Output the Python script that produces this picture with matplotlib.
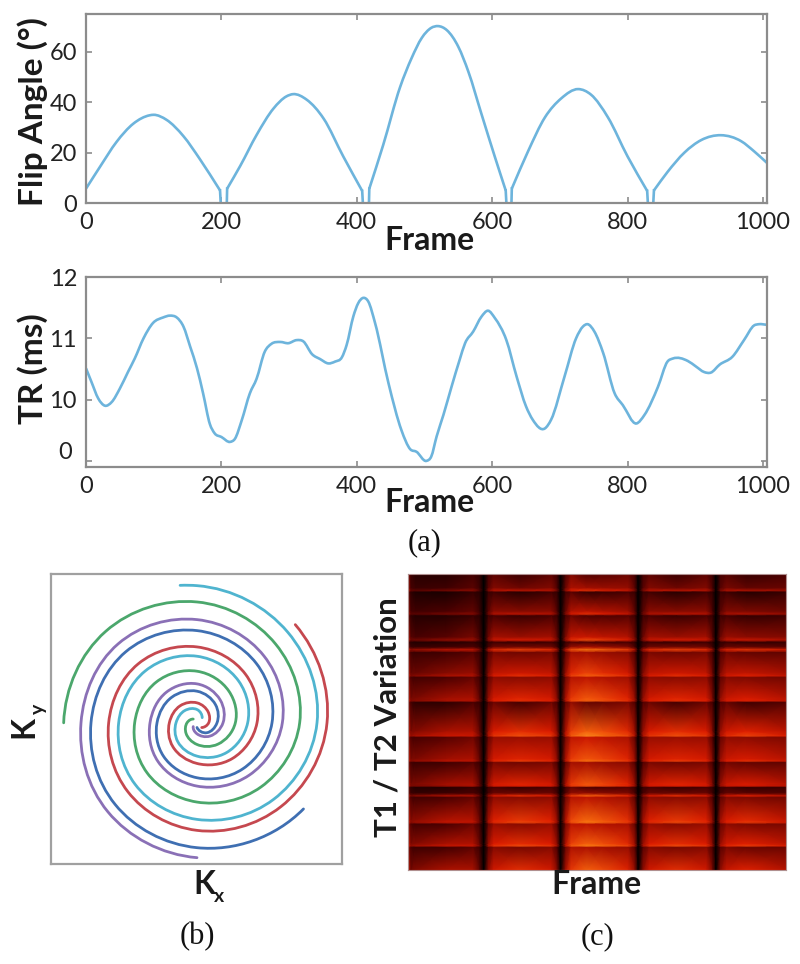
import numpy as np
import matplotlib
matplotlib.use('Agg')
import matplotlib.pyplot as plt
from matplotlib.colors import LinearSegmentedColormap
from matplotlib.path import Path
from matplotlib.patches import PathPatch

# Flip angle
flip_frame = [0, 21, 45, 70, 94, 100, 119, 144, 168, 198, 199, 208, 208.5, 228, 252, 277, 296, 306, 326, 351, 380, 408, 409,
              418, 418.5, 439, 464, 481, 496, 510, 520, 533, 550, 565, 584, 604, 620, 621, 628.5, 629, 653, 678, 702, 727,
              746, 771, 800, 829, 830, 838, 839, 859, 884, 909, 938, 968, 987, 1006]
flip_angle = [5.7, 14.5, 24.2, 31.5, 34.8, 35, 33, 26.5, 17.5, 5, 0, 0, 5.7, 14.8, 27, 37.5, 42.3, 43.2, 41, 33.5, 18.5, 4.8, 0,
              0, 5.7, 23, 46, 57.5, 65.5, 69.5, 70.2, 68.6, 62, 52, 35.5, 18.3, 5, 0, 0, 5.7, 20.5, 34, 41.5, 45.2,
              43, 34, 18.5, 4.8, 0, 0, 5, 12.3, 20, 25, 26.9, 24.5, 20.5, 15.9]

# TR
tr_frame = [0, 8, 18, 28, 38, 50, 62, 72, 85, 99, 114, 124, 134, 144, 154, 164, 173, 183, 190, 200, 213, 220, 230, 242, 252,
            264, 274, 287, 299, 311, 321, 334, 346, 358, 368, 378, 385, 395, 402, 410, 417, 427, 447, 466, 479, 488, 503,
            510, 518, 528, 540, 552, 560, 572, 584, 594, 604, 621, 636, 650, 660, 678, 687, 707, 724, 734, 741, 751, 764,
            781, 793, 813, 825, 845, 859, 867, 889, 901, 913, 923, 936, 955, 972, 987, 994, 1006]
tr_ms = [10.51, 10.29, 10.02, 9.9, 9.96, 10.18, 10.45, 10.67, 11.0, 11.25, 11.34, 11.37, 11.34, 11.19, 10.86, 10.51, 10.1, 9.6,
         9.45, 9.39, 9.31, 9.36, 9.66, 10.1, 10.34, 10.78, 10.91, 10.94, 10.92, 10.97, 10.95, 10.74, 10.66, 10.59, 10.62,
         10.69, 10.89, 11.36, 11.57, 11.66, 11.6, 11.25, 10.26, 9.5, 9.19, 9.15, 9.0, 9.07, 9.4, 9.75, 10.21, 10.65, 10.92,
         11.11, 11.35, 11.45, 11.33, 10.97, 10.38, 9.89, 9.67, 9.53, 9.67, 10.38, 11.0, 11.19, 11.23, 11.11, 10.76, 10.1,
         9.91, 9.61, 9.75, 10.21, 10.62, 10.67, 10.63, 10.54, 10.45, 10.44, 10.57, 10.7, 10.97, 11.21, 11.23, 11.22]

# Spiral arms: angle (deg, counterclockwise) and radius, read every 45 deg
red_theta = np.arange(-45, 766, 45)
red_r = [20, 35, 47, 60, 72, 83, 102, 122, 151, 180, 206, 228, 250, 265, 293, 323, 356, 390, 417]
cyan_theta = np.append(np.arange(45, 811, 45), 817)
cyan_r = [22, 40, 52, 63, 81, 100, 126, 152, 177, 200, 220, 235, 262, 290, 325, 360, 385, 412, 416]
green_theta = np.arange(135, 901, 45)
green_r = [16, 30, 46, 65, 90, 115, 135, 155, 173, 187, 212, 238, 272, 308, 334, 363, 388, 400]
purple_theta = np.arange(225, 991, 45)
purple_r = [16, 33, 56, 78, 98, 117, 130, 141, 165, 190, 222, 256, 284, 310, 335, 348, 378, 405]
blue_theta = np.append(np.arange(270, 991, 45), 1041)
blue_r = [14, 42, 60, 78, 95, 108, 120, 142, 165, 195, 225, 252, 277, 302, 318, 347, 375, 411]

# Heatmap rows: position, level near the lobe edge, level at the lobe centre
row_pos = [42, 85, 92, 97, 155, 163, 168, 232, 241, 247, 262, 270, 278, 340, 348, 353, 415, 423, 428, 515, 528,
           533, 598, 604, 608, 672, 679, 683, 700, 708, 713, 782, 788, 793, 852, 858, 863, 930]
row_edge = [.22, .25, .30, .18, .24, .27, .18, .28, .30, .14, .20, .36, .22, .30, .32, .24, .32, .34, .24, .33, .36,
            .25, .33, .34, .22, .32, .33, .18, .20, .30, .24, .34, .34, .26, .33, .36, .24, .30]
row_centre = [.10, .17, .27, .07, .20, .27, .10, .22, .32, .10, .18, .40, .17, .30, .36, .20, .34, .36, .12, .36, .44,
              .22, .34, .40, .17, .34, .33, .10, .16, .36, .20, .38, .42, .20, .36, .42, .18, .36]
# Heatmap columns: position, how much of the lobe centre shows, lobe gain
col_pos = [115, 124, 138, 230, 310, 330, 342, 356, 372, 450, 545, 562, 572, 588, 604, 650, 700, 775, 795, 805, 820, 838, 920,
           1010, 1028, 1038, 1052, 1070, 1130, 1248]
col_centre = [0, .3, .8, 1, .5, .3, 0, .3, .5, 1, .5, .3, 0, .3, .5, 1, .85, .5, .3, 0, .3, .5, 1, .5, .3, 0, .3, .5, 1, .5]
col_gain = [1.0, .6, .6, .72, .78, .5, 0, .7, 1.0, 1.08, 1.0, .65, 0, .8, 1.25, 1.45, 1.3, 1.1, .7, 0, .7, 1.0, 1.08,
            1.0, .6, 0, .7, .95, 1.0, .85]

DARK = '#222222'
GREY = '#8c8c8c'
LINE = '#6db4dc'
SANS = 'Lato'
SERIF = 'Liberation Serif'

heat = LinearSegmentedColormap.from_list('heat', [(0, '#000000'), (.2, '#4a0000'), (.36, '#a81000'), (.5, '#dc1c00'),
                                                  (.64, '#ee480a'), (.86, '#f8780e'), (1, '#ffa030')])

W, H = 800, 964
fig = plt.figure(figsize=(8, 9.64), dpi=100)


def add_axes_px(left, top, right, bottom):
    return fig.add_axes([left / W, 1 - bottom / H, (right - left) / W, (bottom - top) / H])


def text_px(x, y, s, **kw):
    fig.text(x / W, 1 - y / H, s, ha='center', va='center', **kw)


def style_axes(ax):
    for sp in ax.spines.values():
        sp.set_color(GREY)
        sp.set_linewidth(1.6)
    ax.tick_params(direction='in', top=True, right=True, length=4, width=1.2, color=GREY,
                   labelsize=17, labelcolor=DARK, pad=6.5)
    for lab in ax.get_xticklabels() + ax.get_yticklabels():
        lab.set_family(SANS)


def bezier_path(px, py, dx, dy, step):
    # Hermite segments through the read points, as cubic Beziers
    verts = [(px[0], py[0])]
    codes = [Path.MOVETO]
    for i in range(len(px) - 1):
        h = step[i] / 3
        verts += [(px[i] + dx[i] * h, py[i] + dy[i] * h),
                  (px[i + 1] - dx[i + 1] * h, py[i + 1] - dy[i + 1] * h),
                  (px[i + 1], py[i + 1])]
        codes += [Path.CURVE4] * 3
    return Path(verts, codes)


def curve_path(x, y):
    x = np.asarray(x, float)
    y = np.asarray(y, float)
    return bezier_path(x, y, np.ones(len(x)), np.gradient(y, x), np.diff(x))


def arm_path(theta, r):
    t = np.radians(theta)
    r = np.asarray(r, float)
    dr = np.gradient(r, t)
    dx = dr * np.cos(t) - r * np.sin(t)
    dy = dr * np.sin(t) + r * np.cos(t)
    return bezier_path(r * np.cos(t), r * np.sin(t), dx, dy, np.diff(t))


def draw_curve(ax, x, y):
    ax.add_patch(PathPatch(curve_path(x, y), fill=False, edgecolor=LINE, lw=1.9))


# Flip angle: one smooth dome per pulse train, straight legs down to zero
ax1 = add_axes_px(86, 14, 767, 203)
zero = [i for i, v in enumerate(flip_angle) if v == 0]
starts = [0] + zero[1::2]
ends = zero[0::2] + [len(flip_angle)]
for s, e in zip(starts, ends):
    a = s + 1 if s > 0 else s
    draw_curve(ax1, flip_frame[a:e], flip_angle[a:e])
    if s > 0:
        ax1.plot(flip_frame[s:s + 2], flip_angle[s:s + 2], color=LINE, lw=1.9)
    if e < len(flip_angle):
        ax1.plot(flip_frame[e - 1:e + 1], flip_angle[e - 1:e + 1], color=LINE, lw=1.9)
ax1.set_xlim(0, 1006)
ax1.set_ylim(0, 75)
ax1.set_xticks([0, 200, 400, 600, 800, 1000])
ax1.set_yticks([0, 20, 40, 60])
style_axes(ax1)

# TR
ax2 = add_axes_px(86, 277, 767, 467)
draw_curve(ax2, tr_frame, tr_ms)
ax2.set_xlim(0, 1006)
ax2.set_ylim(8.9, 12)
ax2.set_xticks([0, 200, 400, 600, 800, 1000])
ax2.set_yticks([9, 10, 11, 12])
ax2.set_yticklabels(['', '10', '11', '12'])
style_axes(ax2)
ax2.text(-21, 9.14, '0', ha='right', va='center', fontsize=17, color=DARK, family=SANS)

# Spirals
ax3 = add_axes_px(51, 574, 342, 864)
arms = [(red_theta, red_r, '#c5484f'), (cyan_theta, cyan_r, '#4fb4cf'), (green_theta, green_r, '#4ba76c'),
        (purple_theta, purple_r, '#8a70b6'), (blue_theta, blue_r, '#3f6fb2')]
for theta, r, col in arms:
    ax3.add_patch(PathPatch(arm_path(theta, r), fill=False, edgecolor=col, lw=2.0, capstyle='round'))
ax3.set_xlim(-438, 435)
ax3.set_ylim(-424, 447)
ax3.set_xticks([])
ax3.set_yticks([])
for sp in ax3.spines.values():
    sp.set_color('#a0a0a0')
    sp.set_linewidth(1.6)

# Heatmap
ax4 = add_axes_px(408, 574, 786, 870)
edge = np.array(row_edge)[:, None]
centre = np.array(row_centre)[:, None]
mix = np.array(col_centre)[None, :]
Z = (edge * (1 - mix) + centre * mix) * np.array(col_gain)[None, :]
X, Y = np.meshgrid(col_pos, row_pos)
ax4.pcolormesh(X, Y, Z, shading='gouraud', cmap=heat, vmin=0, vmax=.7)
ax4.set_xlim(115, 1248)
ax4.set_ylim(930, 42)
ax4.set_xticks([])
ax4.set_yticks([])
for sp in ax4.spines.values():
    sp.set_color('#b09090')
    sp.set_linewidth(0.8)

# Labels
bold = dict(family=SANS, fontweight='bold', color='#1a1a1a')
text_px(429, 240, 'Frame', fontsize=23, **bold)
text_px(429, 503, 'Frame', fontsize=23, **bold)
text_px(33, 112, 'Flip Angle (°)', fontsize=24, rotation=90, **bold)
text_px(33, 369, 'TR (ms)', fontsize=24, rotation=90, **bold)
text_px(596, 884, 'Frame', fontsize=23, **bold)
text_px(387, 717, 'T1 / T2 Variation', fontsize=22.5, rotation=90, **bold)
text_px(204, 884, 'K', fontsize=23, **bold)
text_px(219, 896, 'x', fontsize=14, **bold)
text_px(24, 727, 'K', fontsize=23, rotation=90, **bold)
text_px(38, 709, 'y', fontsize=14, rotation=90, **bold)

serif = dict(family=SERIF, color='#111111')
text_px(425, 543, '(a)', fontsize=22, **serif)
text_px(197, 937, '(b)', fontsize=22, **serif)
text_px(598, 937, '(c)', fontsize=22, **serif)

fig.savefig('out.png', dpi=100)
